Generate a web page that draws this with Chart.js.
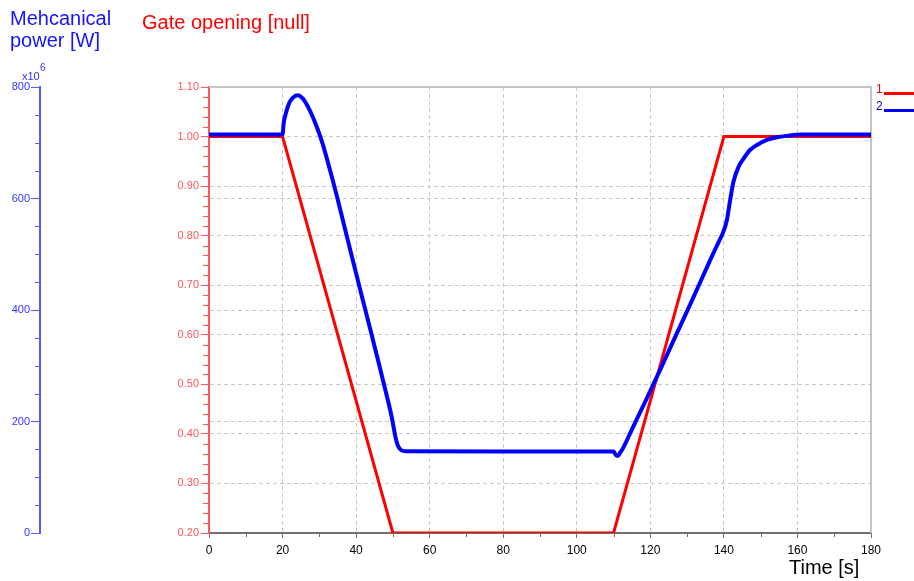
<!DOCTYPE html>
<html>
<head>
<meta charset="utf-8">
<script src="https://cdn.jsdelivr.net/npm/chart.js@4.4.0/dist/chart.umd.min.js"></script>
<style>
  html, body { margin: 0; padding: 0; background: #ffffff; }
  #wrap { width: 914px; height: 581px; position: relative; }
  canvas { display: block; }
</style>
</head>
<body>
<div id="wrap"><canvas id="chart" width="914" height="581"></canvas></div>
<script>
// Axis tick labels
const timeTicks = [0, 20, 40, 60, 80, 100, 120, 140, 160, 180];
const gateTicks = [0.2, 0.3, 0.4, 0.5, 0.6, 0.7, 0.8, 0.9, 1.0, 1.1];
const powerTicks = [0, 200, 400, 600, 800];

// Unlabelled minor tick positions
const timeMinor = [10, 30, 50, 70, 90, 110, 130, 150, 170];
const gateMinor = [];
for (let k = 10; k <= 55; k++) { if (k % 5 !== 0) gateMinor.push(k / 50); }
const powerMinor = [];
for (let v = 50; v < 800; v += 50) { if (v % 200 !== 0) powerMinor.push(v); }

// Series 1: gate opening [null]
const gateTime  = [0, 20, 50, 110, 140, 180];
const gateValue = [1.0, 1.0, 0.2, 0.2, 1.0, 1.0];

// Series 2: mechanical power [x10^6 W]
const powerTime  = [0, 20, 20.3, 20.9, 21.8, 22.7, 24.1, 25.4, 26.8, 28.1, 29.5, 30.9, 32.2, 33.6,
                    35, 36.7, 38.5, 40.4, 42.4, 44.4, 46, 47.6, 49, 49.8, 50.3, 50.8, 51.4, 52.2, 53.5,
                    80, 110, 110.6, 111.1, 111.8, 112.8, 115, 118.2, 122.7, 127.2, 131.8, 136.3, 138.5,
                    139.9, 140.8, 141.7, 142.6, 144, 145.4, 147.1, 149, 151.7, 154.4, 158, 161, 180];
const powerValue = [715, 715, 735, 753, 771, 780, 785, 780, 766, 748, 725, 698, 668, 634,
                    598, 553, 505, 455, 403, 351, 309, 266, 228, 204, 186, 169, 156, 149, 146.5,
                    146, 146, 140, 138, 144, 155, 186, 230, 293, 358, 424, 490, 521,
                    541, 561, 597, 630, 657, 672, 687, 696, 705, 710, 713, 715, 715];

const FONT = '"Liberation Sans", Arial, sans-serif';
const GRID = '#c8c8c8';
const RED_AXIS = '#ff5555';
const BLUE_AXIS = '#5858ff';
const AXIS_GREY = '#707070';

const near = (a, b) => Math.abs(a - b) < 1e-9;

// Short unlabelled ticks between the labelled ones
const minorTicksPlugin = {
  id: 'minorTicks',
  afterDraw(chart) {
    const ctx = chart.ctx;
    const area = chart.chartArea;
    ctx.save();
    ctx.lineWidth = 1;
    const xs = chart.scales.x;
    ctx.strokeStyle = AXIS_GREY;
    timeMinor.forEach(v => {
      const p = Math.round(xs.getPixelForValue(v)) + 0.5;
      ctx.beginPath(); ctx.moveTo(p, area.bottom); ctx.lineTo(p, area.bottom + 4); ctx.stroke();
    });
    const yg = chart.scales.yGate;
    ctx.strokeStyle = RED_AXIS;
    gateMinor.forEach(v => {
      const p = Math.round(yg.getPixelForValue(v)) + 0.5;
      ctx.beginPath(); ctx.moveTo(yg.right - 6, p); ctx.lineTo(yg.right, p); ctx.stroke();
    });
    const yp = chart.scales.yPower;
    ctx.strokeStyle = BLUE_AXIS;
    powerMinor.forEach(v => {
      const p = Math.round(yp.getPixelForValue(v)) + 0.5;
      ctx.beginPath(); ctx.moveTo(yp.right - 5, p); ctx.lineTo(yp.right, p); ctx.stroke();
    });
    ctx.restore();
  }
};

// Light frame along the top and right edges of the plot
const framePlugin = {
  id: 'plotFrame',
  beforeDatasetsDraw(chart) {
    const ctx = chart.ctx;
    const a = chart.chartArea;
    ctx.save();
    ctx.strokeStyle = '#c4c4c4';
    ctx.lineWidth = 2;
    ctx.beginPath();
    ctx.moveTo(a.left, a.top);
    ctx.lineTo(a.right, a.top);
    ctx.lineTo(a.right, a.bottom);
    ctx.stroke();
    ctx.restore();
  }
};

// Axis captions, exponent note and the numbered legend
const captionsPlugin = {
  id: 'captions',
  afterDraw(chart) {
    const ctx = chart.ctx;
    ctx.save();
    ctx.textBaseline = 'alphabetic';
    ctx.textAlign = 'left';
    ctx.font = '20px ' + FONT;
    ctx.fillStyle = '#1414ff';
    ctx.fillText('Mehcanical', 10, 25);
    ctx.fillText('power [W]', 10, 47);
    ctx.fillStyle = '#ff0000';
    ctx.fillText('Gate opening [null]', 142, 29);
    ctx.fillStyle = '#000000';
    ctx.fillText('Time [s]', 789, 574);

    ctx.fillStyle = '#3333ff';
    ctx.font = '11px ' + FONT;
    ctx.fillText('x10', 22, 80);
    ctx.font = '10px ' + FONT;
    ctx.fillText('6', 40, 71);

    // legend entries built from the datasets
    const ds = chart.data.datasets;
    const rows = [90, 107];
    ctx.font = '12px ' + FONT;
    ctx.textBaseline = 'middle';
    ds.forEach((d, i) => {
      const y = rows[i];
      ctx.fillStyle = d.borderColor;
      ctx.fillText(d.label, 876, y);
      ctx.strokeStyle = d.borderColor;
      ctx.lineWidth = 3;
      ctx.beginPath();
      ctx.moveTo(884, y + 3.5);
      ctx.lineTo(914, y + 3.5);
      ctx.stroke();
    });
    ctx.restore();
  }
};

const chart = new Chart(document.getElementById('chart'), {
  type: 'line',
  data: {
    datasets: [
      {
        label: '1',
        data: gateTime.map((t, i) => ({ x: t, y: gateValue[i] })),
        yAxisID: 'yGate',
        borderColor: '#ff0000',
        borderWidth: 3,
        pointRadius: 0,
        tension: 0,
        fill: false,
        order: 1
      },
      {
        label: '2',
        data: powerTime.map((t, i) => ({ x: t, y: powerValue[i] })),
        yAxisID: 'yPower',
        borderColor: '#0000ff',
        borderWidth: 4,
        pointRadius: 0,
        cubicInterpolationMode: 'monotone',
        fill: false,
        order: 0
      }
    ]
  },
  options: {
    responsive: false,
    animation: false,
    devicePixelRatio: 1,
    layout: { padding: { top: 87, right: 43, bottom: 0, left: 0 } },
    plugins: { legend: { display: false }, tooltip: { enabled: false }, title: { display: false } },
    scales: {
      x: {
        type: 'linear',
        position: 'bottom',
        min: 0,
        max: 180,
        afterBuildTicks: s => { s.ticks = timeTicks.map(v => ({ value: v })); },
        afterFit: s => { s.height = 48; },
        ticks: { color: '#000000', font: { family: FONT, size: 12 }, padding: 5, maxRotation: 0, autoSkip: false },
        grid: {
          color: c => (c.tick && (near(c.tick.value, 0) || near(c.tick.value, 180))) ? 'rgba(0,0,0,0)' : GRID,
          lineWidth: 1,
          tickColor: AXIS_GREY,
          tickLength: 5,
          tickWidth: 1
        },
        border: { display: true, color: AXIS_GREY, width: 2, dash: [4, 3] }
      },
      yGate: {
        type: 'linear',
        position: 'left',
        weight: 0,
        min: 0.2,
        max: 1.1,
        afterBuildTicks: s => { s.ticks = gateTicks.map(v => ({ value: v })); },
        afterFit: s => { s.width = 169; },
        ticks: {
          color: RED_AXIS,
          font: { family: FONT, size: 11 },
          padding: 2,
          callback: v => Number(v).toFixed(2)
        },
        grid: {
          color: c => (c.tick && (near(c.tick.value, 0.2) || near(c.tick.value, 1.1))) ? 'rgba(0,0,0,0)' : GRID,
          lineWidth: 1,
          tickColor: RED_AXIS,
          tickLength: 8,
          tickWidth: 1
        },
        border: { display: true, color: RED_AXIS, width: 2, dash: [4, 3] }
      },
      yPower: {
        type: 'linear',
        position: 'left',
        weight: 1,
        min: 0,
        max: 800,
        afterBuildTicks: s => { s.ticks = powerTicks.map(v => ({ value: v })); },
        afterFit: s => { s.width = 40; },
        ticks: { color: '#3333ff', font: { family: FONT, size: 11 }, padding: 1 },
        grid: {
          color: c => (c.tick && (near(c.tick.value, 0) || near(c.tick.value, 800))) ? 'rgba(0,0,0,0)' : GRID,
          lineWidth: 1,
          tickColor: BLUE_AXIS,
          tickLength: 9,
          tickWidth: 1
        },
        border: { display: true, color: BLUE_AXIS, width: 2, dash: [4, 3] }
      }
    }
  },
  plugins: [framePlugin, minorTicksPlugin, captionsPlugin]
});
</script>
</body>
</html>
